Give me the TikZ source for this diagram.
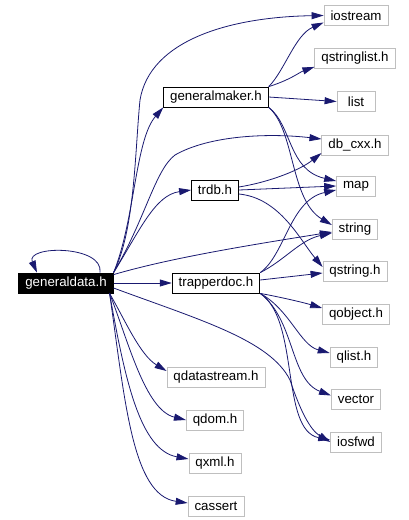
\documentclass[tikz,border=0pt]{standalone}
\usepackage{fontspec}
\setmainfont{Liberation Sans}
\usepackage{tikz}
\usepackage{xcolor}
\definecolor{EdgeBlue}{RGB}{25, 25, 112}
\definecolor{LeafGray}{RGB}{191, 191, 191}
\usetikzlibrary{arrows.meta, positioning}

\begin{document}
\begin{tikzpicture}[x=1pt, y=-1pt,
    leaf/.style={rectangle, minimum width=38pt, minimum height=20pt, inner xsep=6.5pt, inner ysep=0pt, draw=LeafGray, line width=0.8pt, font=\fontsize{13.3}{15}\selectfont},
    header/.style={leaf, draw=black},
    root/.style={leaf, draw=black, fill=black, text=white},
    edge/.style={-{Triangle[length=12pt, width=7pt]}, line width=0.8pt, EdgeBlue}
]
\useasboundingbox (0,0) rectangle (409,520);

% Files
\node[root] (gendata) at (66,283) {generaldata.h};
\node[header] (genmaker) at (216,97) {generalmaker.h};
\node[header] (trdb) at (215,190) {trdb.h};
\node[header] (trapperdoc) at (216,283) {trapperdoc.h};

\node[leaf] (iostream) at (356,15.5) {iostream};
\node[leaf] (qstringlist) at (355,58.5) {qstringlist.h};
\node[leaf] (list) at (356,101.5) {list};
\node[leaf] (dbcxx) at (355,145) {db\_cxx.h};
\node[leaf] (map) at (356,186) {map};
\node[leaf] (string) at (355,229) {string};
\node[leaf] (qstring) at (355,271) {qstring.h};
\node[leaf] (qobject) at (356,314) {qobject.h};
\node[leaf] (qlist) at (354,357) {qlist.h};
\node[leaf] (vector) at (356,399.5) {vector};
\node[leaf] (iosfwd) at (356,442) {iosfwd};
\node[leaf] (qdatastream) at (216,377) {qdatastream.h};
\node[leaf] (qdom) at (215,420) {qdom.h};
\node[leaf] (qxml) at (215,463) {qxml.h};
\node[leaf] (cassert) at (216,506) {cassert};

% Includes of generaldata.h
\draw[edge] ([xshift=34pt]gendata.north) .. controls (104,245) and (25,245) .. ([xshift=-29pt]gendata.north);
\draw[edge] (gendata.north east) .. controls (135,220) and (135,140) .. (genmaker.south west);
\draw[edge] (gendata.north east) .. controls (135,230) and (135,150) .. (140,100)
    .. controls (150,40) and (230,17) .. (iostream.west);
\draw[edge] (gendata.north east) .. controls (145,220) and (155,170) .. (175,155)
    .. controls (210,135) and (270,133) .. ([yshift=6pt]dbcxx.west);
\draw[edge] (gendata.north east) .. controls (140,230) and (155,195) .. (trdb.west);
\draw[edge] ([yshift=-2pt]gendata.north east) .. controls (170,258) and (250,245) .. ([yshift=-3pt]string.west);
\draw[edge] (gendata.east) -- (trapperdoc.west);
\draw[edge] ([yshift=-5pt]gendata.east) .. controls (200,320) and (270,340) .. (290,380)
    .. controls (300,410) and (310,430) .. (iosfwd.west);
\draw[edge] ([xshift=-4pt]gendata.south east) .. controls (125,320) and (140,355) .. ([yshift=6pt]qdatastream.west);
\draw[edge] ([xshift=-4pt]gendata.south east) .. controls (128,340) and (145,410) .. (qdom.west);
\draw[edge] ([xshift=-4pt]gendata.south east) .. controls (125,380) and (140,450) .. ([yshift=4pt]qxml.west);
\draw[edge] ([xshift=-4pt]gendata.south east) .. controls (125,400) and (132,495) .. ([yshift=3pt]cassert.west);

% Includes of generalmaker.h
\draw[edge] (genmaker.north east) .. controls (285,70) and (295,35) .. ([yshift=-7pt]iostream.west);
\draw[edge] (genmaker.north east) .. controls (290,80) and (300,72) .. ([yshift=2pt]qstringlist.south west);
\draw[edge] (genmaker.east) -- (list.west);
\draw[edge] (genmaker.south east) .. controls (292,125) and (288,170) .. ([yshift=5pt]map.west);
\draw[edge] (genmaker.south east) .. controls (295,130) and (290,200) .. ([yshift=4pt]string.west);

% Includes of trdb.h
\draw[edge] ([yshift=3pt]trdb.east) .. controls (270,182) and (300,170) .. ([yshift=-8pt]dbcxx.west);
\draw[edge] (trdb.east) -- (map.west);
\draw[edge] ([yshift=-4pt]trdb.east) .. controls (280,198) and (300,240) .. ([yshift=4pt]qstring.west);

% Includes of trapperdoc.h
\draw[edge] (trapperdoc.north east) .. controls (285,255) and (290,200) .. ([yshift=-4pt]map.west);
\draw[edge] (trapperdoc.north east) .. controls (285,260) and (300,240) .. ([yshift=-4pt]string.west);
\draw[edge] ([yshift=3pt]trapperdoc.east) -- ([yshift=-2pt]qstring.west);
\draw[edge] (trapperdoc.south east) .. controls (285,298) and (305,303) .. ([yshift=6pt]qobject.west);
\draw[edge] (trapperdoc.south east) .. controls (290,310) and (300,345) .. ([yshift=4pt]qlist.west);
\draw[edge] (trapperdoc.south east) .. controls (295,320) and (290,380) .. ([yshift=4pt]vector.west);
\draw[edge] (trapperdoc.south east) .. controls (300,320) and (280,430) .. ([yshift=2pt]iosfwd.west);

\end{tikzpicture}
\end{document}
